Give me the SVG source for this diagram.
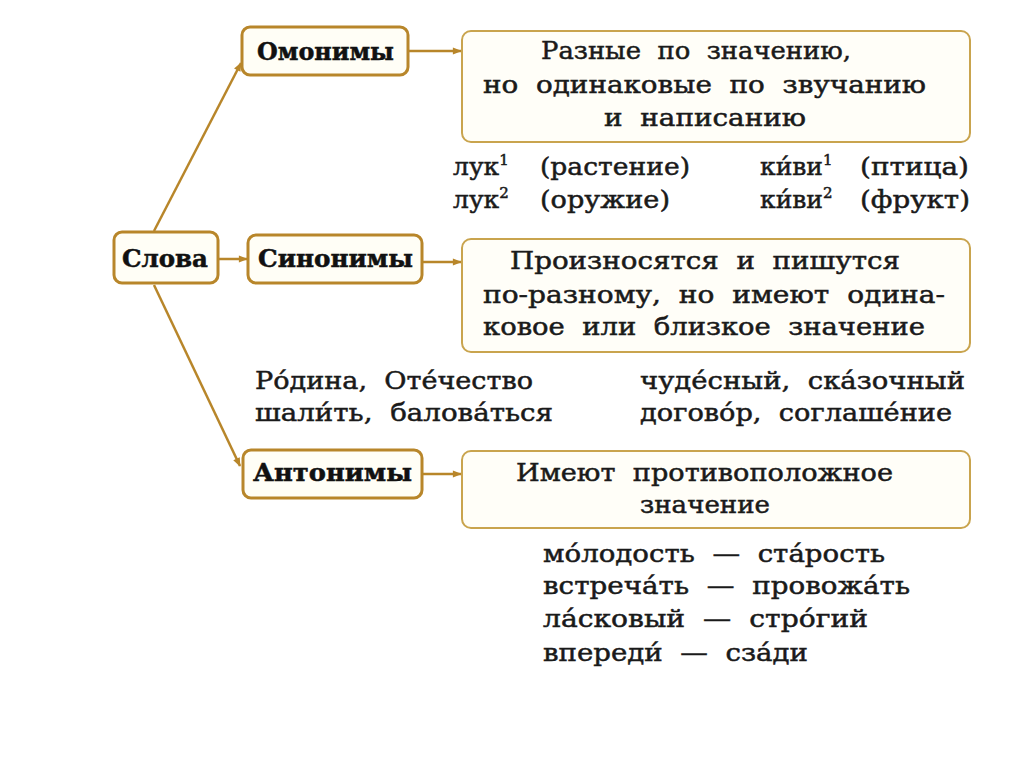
<svg xmlns="http://www.w3.org/2000/svg" width="1024" height="767" viewBox="0 0 1024 767">
<defs>
<marker id="arr" viewBox="0 0 10 10" refX="9" refY="5" markerWidth="10" markerHeight="9" orient="auto" markerUnits="userSpaceOnUse">
<path d="M0,1 L10,5 L0,9 Z" fill="#b8862a"/>
</marker>
<style>
.node{fill:#fffef6;stroke:#b8862a;stroke-width:3}
.big{fill:#fffef8;stroke:#c9a44e;stroke-width:2}
.lbl{font-family:"DejaVu Serif","Liberation Serif",serif;font-weight:bold;font-size:24px;fill:#111;stroke:#111;stroke-width:0.5}
.t{font-family:"DejaVu Serif","Liberation Serif",serif;font-size:25px;word-spacing:8px;fill:#1a1a1a;stroke:#1a1a1a;stroke-width:0.5}
.c{stroke:#b8862a;stroke-width:2.5;fill:none}
</style>
</defs>
<rect width="1024" height="767" fill="#ffffff"/>
<g id="connectors">
<line class="c" x1="154" y1="231" x2="241" y2="63" marker-end="url(#arr)"/>
<line class="c" x1="218" y1="259" x2="247" y2="259" marker-end="url(#arr)"/>
<line class="c" x1="154" y1="285" x2="240" y2="466" marker-end="url(#arr)"/>
<line class="c" x1="409" y1="51" x2="461" y2="51" stroke-width="1.5" marker-end="url(#arr)"/>
<line class="c" x1="423" y1="262" x2="461" y2="262" stroke-width="1.5" marker-end="url(#arr)"/>
<line class="c" x1="423" y1="474" x2="461" y2="474" stroke-width="1.5" marker-end="url(#arr)"/>
</g>
<g id="slova">
<rect class="node" x="114" y="232" width="104" height="51" rx="8"/>
<text class="lbl" x="122" y="267" textLength="86" lengthAdjust="spacingAndGlyphs">Слова</text>
</g>
<g id="omonimy">
<rect class="node" x="242" y="27" width="166" height="48" rx="8"/>
<text class="lbl" x="257" y="60" textLength="137" lengthAdjust="spacingAndGlyphs">Омонимы</text>
</g>
<g id="sinonimy">
<rect class="node" x="248" y="235" width="174" height="48" rx="8"/>
<text class="lbl" x="258" y="267" textLength="155" lengthAdjust="spacingAndGlyphs">Синонимы</text>
</g>
<g id="antonimy">
<rect class="node" x="243" y="450" width="179" height="48" rx="8"/>
<text class="lbl" x="253" y="481" textLength="159" lengthAdjust="spacingAndGlyphs">Антонимы</text>
</g>
<g id="omonimy-def">
<rect class="big" x="462" y="31" width="508" height="111" rx="9"/>
<text class="t" x="541" y="59" textLength="310" lengthAdjust="spacingAndGlyphs">Разные по значению,</text>
<text class="t" x="483" y="93" textLength="443" lengthAdjust="spacingAndGlyphs">но одинаковые по звучанию</text>
<text class="t" x="604" y="126" textLength="202" lengthAdjust="spacingAndGlyphs">и написанию</text>
</g>
<g id="omonimy-ex">
<text class="t" x="453" y="175">лук<tspan font-size="15" dy="-10">1</tspan><tspan dy="10" x="540" textLength="150" lengthAdjust="spacingAndGlyphs">(растение)</tspan></text>
<text class="t" x="453" y="208">лук<tspan font-size="15" dy="-10">2</tspan><tspan dy="10" x="540" textLength="130" lengthAdjust="spacingAndGlyphs">(оружие)</tspan></text>
<text class="t" x="760" y="175">ки́ви<tspan font-size="15" dy="-10">1</tspan><tspan dy="10" x="860" textLength="109" lengthAdjust="spacingAndGlyphs">(птица)</tspan></text>
<text class="t" x="760" y="208">ки́ви<tspan font-size="15" dy="-10">2</tspan><tspan dy="10" x="860" textLength="110" lengthAdjust="spacingAndGlyphs">(фрукт)</tspan></text>
</g>
<g id="sinonimy-def">
<rect class="big" x="462" y="239" width="508" height="113" rx="9"/>
<text class="t" x="510" y="269" textLength="390" lengthAdjust="spacingAndGlyphs">Произносятся и пишутся</text>
<text class="t" x="483" y="303" textLength="462" lengthAdjust="spacingAndGlyphs">по-разному, но имеют одина-</text>
<text class="t" x="483" y="335" textLength="442" lengthAdjust="spacingAndGlyphs">ковое или близкое значение</text>
</g>
<g id="sinonimy-ex">
<text class="t" x="255" y="389" textLength="278" lengthAdjust="spacingAndGlyphs">Ро́дина, Оте́чество</text>
<text class="t" x="255" y="421" textLength="298" lengthAdjust="spacingAndGlyphs">шали́ть, балова́ться</text>
<text class="t" x="640" y="389" textLength="325" lengthAdjust="spacingAndGlyphs">чуде́сный, ска́зочный</text>
<text class="t" x="640" y="421" textLength="312" lengthAdjust="spacingAndGlyphs">догово́р, соглаше́ние</text>
</g>
<g id="antonimy-def">
<rect class="big" x="462" y="451" width="508" height="77" rx="9"/>
<text class="t" x="516" y="481" textLength="377" lengthAdjust="spacingAndGlyphs">Имеют противоположное</text>
<text class="t" x="640" y="513" textLength="130" lengthAdjust="spacingAndGlyphs">значение</text>
</g>
<g id="antonimy-ex">
<text class="t" x="543" y="562" textLength="342" lengthAdjust="spacingAndGlyphs">мо́лодость — ста́рость</text>
<text class="t" x="543" y="594" textLength="367" lengthAdjust="spacingAndGlyphs">встреча́ть — провожа́ть</text>
<text class="t" x="543" y="627" textLength="325" lengthAdjust="spacingAndGlyphs">ла́сковый — стро́гий</text>
<text class="t" x="543" y="661" textLength="265" lengthAdjust="spacingAndGlyphs">впереди́ — сза́ди</text>
</g>
</svg>
